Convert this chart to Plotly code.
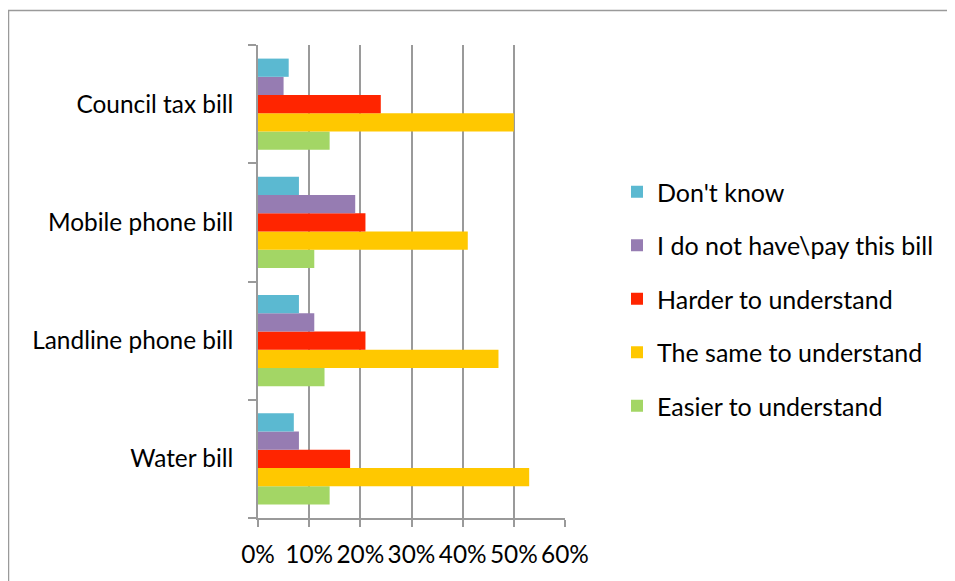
import plotly.graph_objects as go

categories = ["Water bill", "Landline phone bill", "Mobile phone bill", "Council tax bill"]
series_names = ["Easier to understand", "The same to understand", "Harder to understand",
                "I do not have\\pay this bill", "Don't know"]
easier = [0.14, 0.13, 0.11, 0.14]
same = [0.53, 0.47, 0.41, 0.50]
harder = [0.18, 0.21, 0.21, 0.24]
no_bill = [0.08, 0.11, 0.19, 0.05]
dont_know = [0.07, 0.08, 0.08, 0.06]
tick_vals = [0, 0.1, 0.2, 0.3, 0.4, 0.5, 0.6]
tick_text = ["0%", "10%", "20%", "30%", "40%", "50%", "60%"]

colors = ["#A3D665", "#FFC800", "#FF2500", "#967CB2", "#5BB9D1"]
values = [easier, same, harder, no_bill, dont_know]

FONT = "Lato"
FS = 24.4
FS_LEG = 25

fig = go.Figure()
for i, (name, vals, col) in enumerate(zip(series_names, values, colors)):
    fig.add_trace(go.Bar(
        y=categories, x=vals, name=name, orientation="h",
        marker=dict(color=col, line=dict(width=0)),
        legendgroup=f"g{i}", legendrank=100 - i,
    ))

# page body has an 8px margin: work in reference pixel coords, offset by 8
OFF = 8
W, H = 955 - OFF, 581 - OFF
L, R, T, B = 258 - OFF, 955 - 565, 45 - OFF, 581 - 518
pw = W - L - R
ph = H - T - B

def px_x(p):
    return (p - OFF - L) / pw

def px_y(p):
    return (H - B - (p - OFF)) / ph

fig.update_layout(
    width=W, height=H,
    margin=dict(l=L, r=R, t=T, b=B),
    paper_bgcolor="white", plot_bgcolor="white",
    barmode="group", bargap=0.23, bargroupgap=0,
    font=dict(family=FONT, size=FS, color="#000000"),
    showlegend=True,
    legend=dict(
        x=px_x(617), y=px_y(169), xanchor="left", yanchor="top",
        traceorder="grouped", tracegroupgap=18,
        font=dict(family=FONT, size=FS_LEG, color="#000000"),
        bgcolor="rgba(0,0,0,0)", itemwidth=30,
    ),
    xaxis=dict(
        range=[0, 0.6], tickvals=tick_vals, ticktext=tick_text,
        showgrid=True, gridcolor="#9A9A9A", gridwidth=1.5,
        showline=True, linecolor="#9A9A9A", linewidth=1.5,
        ticks="outside", ticklen=7, tickcolor="#9A9A9A", tickwidth=1.5,
        zeroline=False, fixedrange=True, ticklabelstandoff=7,
        tickfont=dict(family=FONT, size=FS, color="#000000"),
    ),
    yaxis=dict(
        categoryorder="array", categoryarray=categories,
        showline=True, linecolor="#9A9A9A", linewidth=1.5,
        ticks="outside", ticklen=8, tickcolor="#9A9A9A", tickwidth=1.5,
        tickson="boundaries", showgrid=False, zeroline=False,
        ticklabelstandoff=18,
        tickfont=dict(family=FONT, size=FS, color="#000000"),
    ),
    shapes=[dict(
        type="rect", xref="paper", yref="paper",
        x0=px_x(8.5), x1=px_x(980), y0=px_y(620), y1=px_y(10.5),
        line=dict(color="#9A9A9A", width=1.5), fillcolor="rgba(0,0,0,0)",
        layer="below",
    )],
)

fig.write_html("out.html")
